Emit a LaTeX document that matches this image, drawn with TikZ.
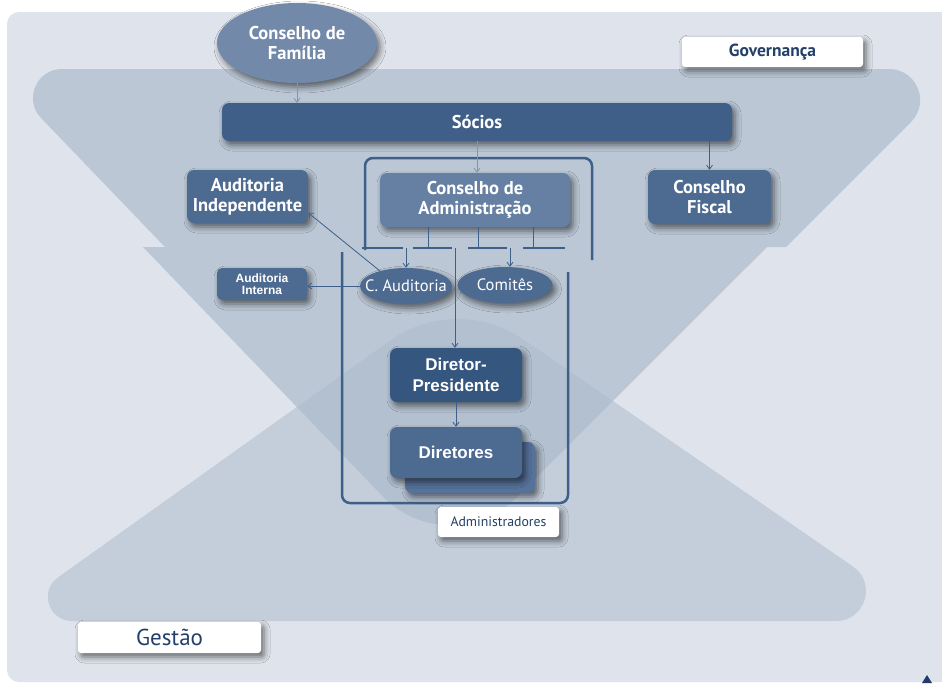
\documentclass[tikz,border=0pt]{standalone}
\usepackage{fontspec}
\newfontfamily\pts{PT Sans}
\newfontfamily\lib{Liberation Sans}
\usetikzlibrary{shapes.geometric,arrows.meta,shadows.blur}
\definecolor{panel}{HTML}{DFE4EC}
\definecolor{govc}{HTML}{BBC7D5}
\definecolor{gesc}{HTML}{C4CEDB}
\definecolor{ovc}{HTML}{B3C0D0}
\definecolor{boxc}{HTML}{4D6A91}
\definecolor{socc}{HTML}{3F5F88}
\definecolor{cac}{HTML}{6680A4}
\definecolor{dpc}{HTML}{34567F}
\definecolor{famc}{HTML}{7389AA}
\definecolor{backc}{HTML}{56729A}
\definecolor{linec}{HTML}{3E5F88}
\definecolor{lightl}{HTML}{7F95B3}
\definecolor{navy}{HTML}{23406A}
\definecolor{tri}{HTML}{1F3C6B}
\newcommand\fBold{\pts\bfseries\fontsize{18.5}{20}\selectfont}
\newcommand\fReg{\pts\fontsize{16.5}{19}\selectfont}
\newcommand\fArial{\lib\bfseries\fontsize{17}{21}\selectfont}
\newcommand\fArialS{\lib\bfseries\fontsize{12}{11.5}\selectfont}
\def\govpath{(62,69) -- (889,69) .. controls (916.7,69) and (930.6,102.4) .. (911,122)
  -- (786,247) -- (767,247) -- (516,497.8) .. controls (479.2,534.7) and (419.2,534.2) .. (383,496.6)
  -- (143,247) -- (165,247) -- (41.1,118.1) .. controls (23.4,99.6) and (36.4,69) .. (62,69) -- cycle}
\def\gespath{(389.7,340.7) .. controls (429.7,312.1) and (483.5,311.7) .. (523.9,339.6)
  -- (853,566.5) .. controls (877.1,583.2) and (865.3,621) .. (836,621)
  -- (72,621) .. controls (48.6,621) and (39,591) .. (58,577.4) -- cycle}
\tikzset{
  shad/.style={blur shadow={shadow xshift=3pt,shadow yshift=-4pt,shadow blur radius=6pt,shadow opacity=55}},
  box/.style={rectangle, rounded corners=7pt, inner sep=0pt, text=white, align=center, shad},
  oval/.style={ellipse, inner sep=0pt, inner xsep=-10pt, text=white, align=center, shad},
  label/.style={rectangle, rounded corners=3pt, fill=white, inner sep=0pt, text=navy, shad},
  brk/.style={draw=linec, line width=2.5pt, rounded corners=8pt},
  busl/.style={draw=linec, line width=2.5pt},
  thinl/.style={draw=linec, line width=0.8pt},
  arr/.style={draw=linec, line width=0.8pt, -{Straight Barb[length=4pt,width=6pt]}},
  larr/.style={draw=lightl, line width=0.8pt, -{Straight Barb[length=4pt,width=6pt]}}
}
\begin{document}
\begin{tikzpicture}[x=1pt,y=-1pt]
\useasboundingbox (0,0) rectangle (942,683);
\fill[white] (0,0) rectangle (942,683);
\fill[panel, rounded corners=12pt] (7,12) rectangle (962,682);
% hourglass
\fill[govc] \govpath;
\fill[gesc] \gespath;
\begin{scope}
  \clip \govpath;
  \fill[ovc] \gespath;
\end{scope}
% small mark
\fill[tri] (927,675) -- (932,683) -- (922,683) -- cycle;

% frames
\draw[brk] (365,250) -- (365,158) -- (592,158) -- (592,260);
\draw[brk] (342,252) -- (342,503) -- (568,503) -- (568,272);

% nodes
\node[oval, fill=famc, minimum width=160pt, minimum height=80pt, font=\fBold] (fam) at (297,43) {Conselho de\\Família};
\node[box, fill=socc, minimum width=510pt, minimum height=38pt, font=\fBold] (soc) at (477,122) {Sócios};
\node[box, fill=boxc, minimum width=121pt, minimum height=53pt, font=\fBold] (aind) at (247.5,196.5) {Auditoria\\Independente};
\node[box, fill=cac, minimum width=190pt, minimum height=54pt, font=\fBold] (ca) at (475,200) {Conselho de\\Administração};
\node[box, fill=boxc, minimum width=123pt, minimum height=54pt, font=\fBold] (cf) at (709.5,197) {Conselho\\Fiscal};
\node[box, fill=boxc, minimum width=90pt, minimum height=32pt, rounded corners=5pt, font=\fArialS] (aint) at (262,284) {Auditoria\\Interna};
\node[oval, fill=boxc, minimum width=92pt, minimum height=36pt, font=\fReg] (caud) at (406,286) {C. Auditoria};
\node[oval, fill=boxc, minimum width=95pt, minimum height=36pt, font=\fReg] (com) at (505,285) {Comitês};
\node[box, fill=dpc, minimum width=132pt, minimum height=54pt, font=\fArial] (dp) at (456,375) {Diretor-\\Presidente};
\node[box, fill=backc, minimum width=130pt, minimum height=51pt] (dirb) at (470,467.5) {};
\node[box, fill=boxc, minimum width=132pt, minimum height=51pt, font=\fArial] (dir) at (456,452.5) {Diretores};
\node[label, minimum width=121pt, minimum height=30pt, font=\pts\fontsize{13.8}{15}\selectfont] (adm) at (498.5,522) {Administradores};
\node[label, minimum width=181pt, minimum height=30pt, font=\pts\bfseries\fontsize{17.5}{19}\selectfont] (gov) at (772.5,52) {Governança};
\node[label, minimum width=183pt, minimum height=31pt, font=\pts\fontsize{23}{25}\selectfont] (ges) at (169.5,637.5) {Gestão};

% bus under Conselho de Administracao
\coordinate (d1) at (428,248);
\coordinate (d2) at (478,248);
\coordinate (d3) at (533,248);
\coordinate (a1) at (406,248);
\coordinate (a2) at (510,248);
\coordinate (a3) at (455,248);
\draw[busl] (362,248) -- (403,248);
\draw[busl] (413,248) -- (452,248);
\draw[busl] (468,248) -- (507,248);
\draw[busl] (523,248) -- (565,248);
\draw[thinl] (ca.south -| d1) -- (d1);
\draw[thinl] (ca.south -| d2) -- (d2);
\draw[thinl] (ca.south -| d3) -- (d3);
\draw[arr] (a1) -- (caud.north);
\draw[arr] (a2) -- (a2 |- com.north);
\draw[arr] (a3) -- (a3 |- dp.north);

% connectors
\draw[larr] (fam.south) -- (soc.north -| fam.south);
\draw[larr] (soc.south) -- (soc.south |- ca.north);
\draw[arr] (cf.north |- soc.south) -- (cf.north);
\draw[arr] (caud.150) -- (aind.-15);
\draw[arr] (caud.west) -- (aint.east |- caud.west);
\draw[arr] (dp.south) -- (dir.north);
\end{tikzpicture}
\end{document}
